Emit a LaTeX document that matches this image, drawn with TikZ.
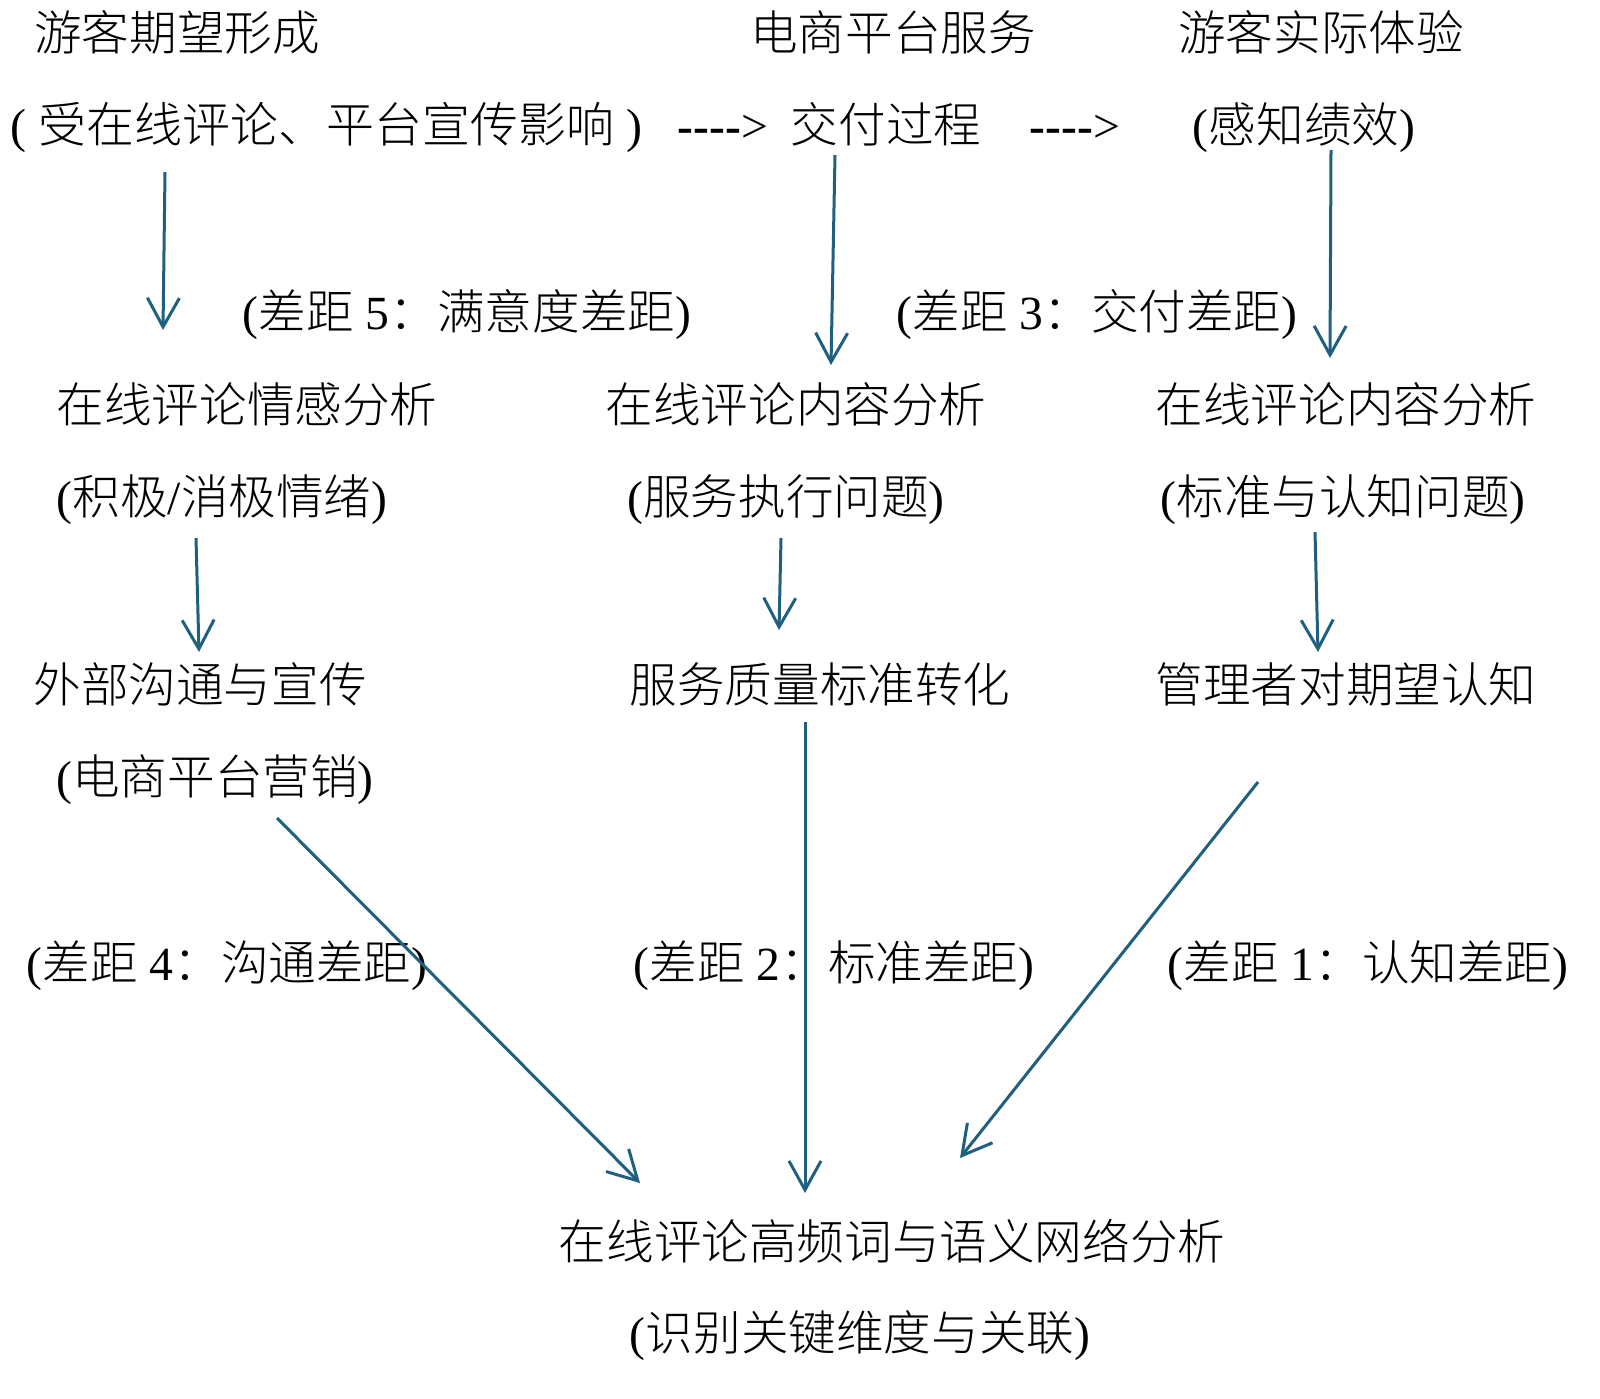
\documentclass[tikz,border=0pt]{standalone}
\usepackage{fontspec}
\setmainfont{Liberation Serif}
\newfontfamily\cjk{Noto Sans CJK SC Light}
\usetikzlibrary{arrows.meta}
\definecolor{arrc}{RGB}{31,95,127}
\begin{document}
\begin{tikzpicture}[x=0.5pt,y=-0.5pt,
 txt/.style={anchor=base,inner sep=0pt,font=\fontsize{23.8pt}{28pt}\selectfont},
 arr/.style={draw=arrc,line width=1.5pt,-{Straight Barb[length=14.5pt,width=16pt,line width=1.5pt]}}]
\fill[white] (0,0) rectangle (1600,1398);
\useasboundingbox (0,0) rectangle (1600,1398);
% row 1
\node[txt] (t1) at (177,50) {\cjk 游客期望形成};
\node[txt] (t2) at (893,50) {\cjk 电商平台服务};
\node[txt] (t3) at (1321,50) {\cjk 游客实际体验};
% row 2
\node[txt,font=\fontsize{24pt}{28pt}\selectfont] (s1) at (326,142) {(\kern0.25em{\cjk 受在线评论、平台宣传影响}\kern0.25em)};
\node[txt] (d1) at (723,142) {\textbf{-{}-{}-{}-}>};
\node[txt] (s2) at (886,142) {\cjk 交付过程};
\node[txt] (d2) at (1075,142) {\textbf{-{}-{}-{}-}>};
\node[txt] (s3) at (1304,142) {({\cjk 感知绩效})};
% gap labels top
\node[txt] (g5) at (467,329) {({\cjk 差距} 5{\cjk ：满意度差距})};
\node[txt] (g3) at (1097,329) {({\cjk 差距} 3{\cjk ：交付差距})};
% row 3
\node[txt] (c1) at (247,422) {\cjk 在线评论情感分析};
\node[txt] (c2) at (796,422) {\cjk 在线评论内容分析};
\node[txt] (c3) at (1346,422) {\cjk 在线评论内容分析};
% row 4
\node[txt] (e1) at (222,514) {({\cjk 积极}/{\cjk 消极情绪})};
\node[txt] (e2) at (786,514) {({\cjk 服务执行问题})};
\node[txt] (e3) at (1343,514) {({\cjk 标准与认知问题})};
% row 5
\node[txt] (m1) at (200,702) {\cjk 外部沟通与宣传};
\node[txt] (m2) at (820,702) {\cjk 服务质量标准转化};
\node[txt] (m3) at (1346,702) {\cjk 管理者对期望认知};
% row 6
\node[txt] (n1) at (215,794) {({\cjk 电商平台营销})};
% gap labels bottom
\node[txt] (g4) at (227,980) {({\cjk 差距} 4{\cjk ：沟通差距})};
\node[txt] (g2) at (834,980) {({\cjk 差距} 2{\cjk ：标准差距})};
\node[txt] (g1) at (1368,980) {({\cjk 差距} 1{\cjk ：认知差距})};
% bottom
\node[txt] (b1) at (892,1259) {\cjk 在线评论高频词与语义网络分析};
\node[txt] (b2) at (860,1350) {({\cjk 识别关键维度与关联})};
% arrow endpoints
\coordinate (a1s) at (165,172); \coordinate (a1e) at (163,330);
\coordinate (a2s) at (835,155); \coordinate (a2e) at (831,365);
\coordinate (a3s) at (1331,150); \coordinate (a3e) at (1330,358);
\coordinate (a4s) at (196,538); \coordinate (a4e) at (199,652);
\coordinate (a5s) at (781,538); \coordinate (a5e) at (779,630);
\coordinate (a6s) at (1315,532); \coordinate (a6e) at (1318,652);
\coordinate (a7s) at (277,818); \coordinate (a7e) at (640,1183);
\coordinate (a8s) at (805,722); \coordinate (a8e) at (805,1193);
\coordinate (a9s) at (1258,782); \coordinate (a9e) at (960,1158);
\foreach \i in {1,...,9} {\draw[arr] (a\i s) -- (a\i e);}
\end{tikzpicture}
\end{document}
